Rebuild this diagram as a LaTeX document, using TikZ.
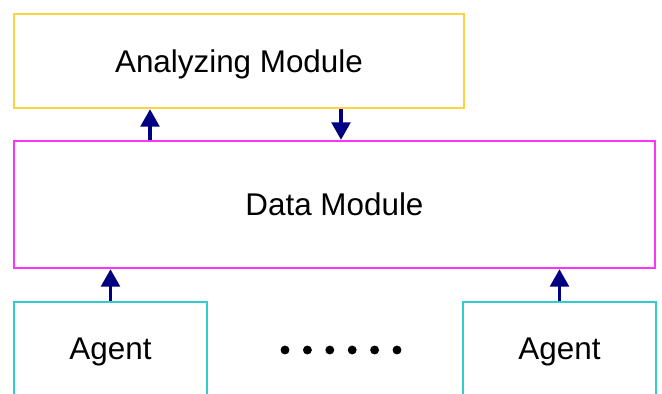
\documentclass[tikz,border=0pt]{standalone}
\usepackage{fontspec}
\setmainfont{Liberation Sans}
\usetikzlibrary{arrows.meta}
\definecolor{ColorAnalyze}{HTML}{FFD23F}
\definecolor{ColorData}{HTML}{FF33FF}
\definecolor{ColorAgent}{HTML}{33CCCC}
\definecolor{ColorArrow}{HTML}{000080}

\begin{document}
\begin{tikzpicture}[x=0.03cm, y=-0.03cm,
        modbox/.style={draw, line width=2pt, inner sep=0pt, text depth=0pt, font=\fontsize{26.8}{32}\selectfont},
        flow/.style={draw=ColorArrow, line width=3pt, -{Triangle[width=16pt,length=15pt]}}]
        \clip (0,0) rectangle (662,394);
        \node[modbox, draw=ColorAnalyze, minimum width=13.5cm, minimum height=2.82cm] (ana) at (239,61) {Analyzing Module};
        \node[modbox, draw=ColorData, minimum width=19.23cm, minimum height=3.81cm] (data) at (334.5,204.5) {Data Module};
        \node[modbox, draw=ColorAgent, minimum width=5.79cm, minimum height=2.82cm] (agentA) at (110.5,349) {Agent};
        \node[modbox, draw=ColorAgent, minimum width=5.79cm, minimum height=2.82cm] (agentB) at (559.5,349) {Agent};
        \coordinate (up) at (150,0);
        \coordinate (down) at (341,0);
        \draw[flow] (data.north -| up) -- (ana.south -| up);
        \draw[flow] (ana.south -| down) -- (data.north -| down);
        \draw[flow] (agentA.north) -- (data.south -| agentA.north);
        \draw[flow] (agentB.north) -- (data.south -| agentB.north);
        \foreach \i in {0,...,5} {
            \fill (285+\i*22.4,350) circle (3.8pt);
        }
    \end{tikzpicture}
\end{document}
